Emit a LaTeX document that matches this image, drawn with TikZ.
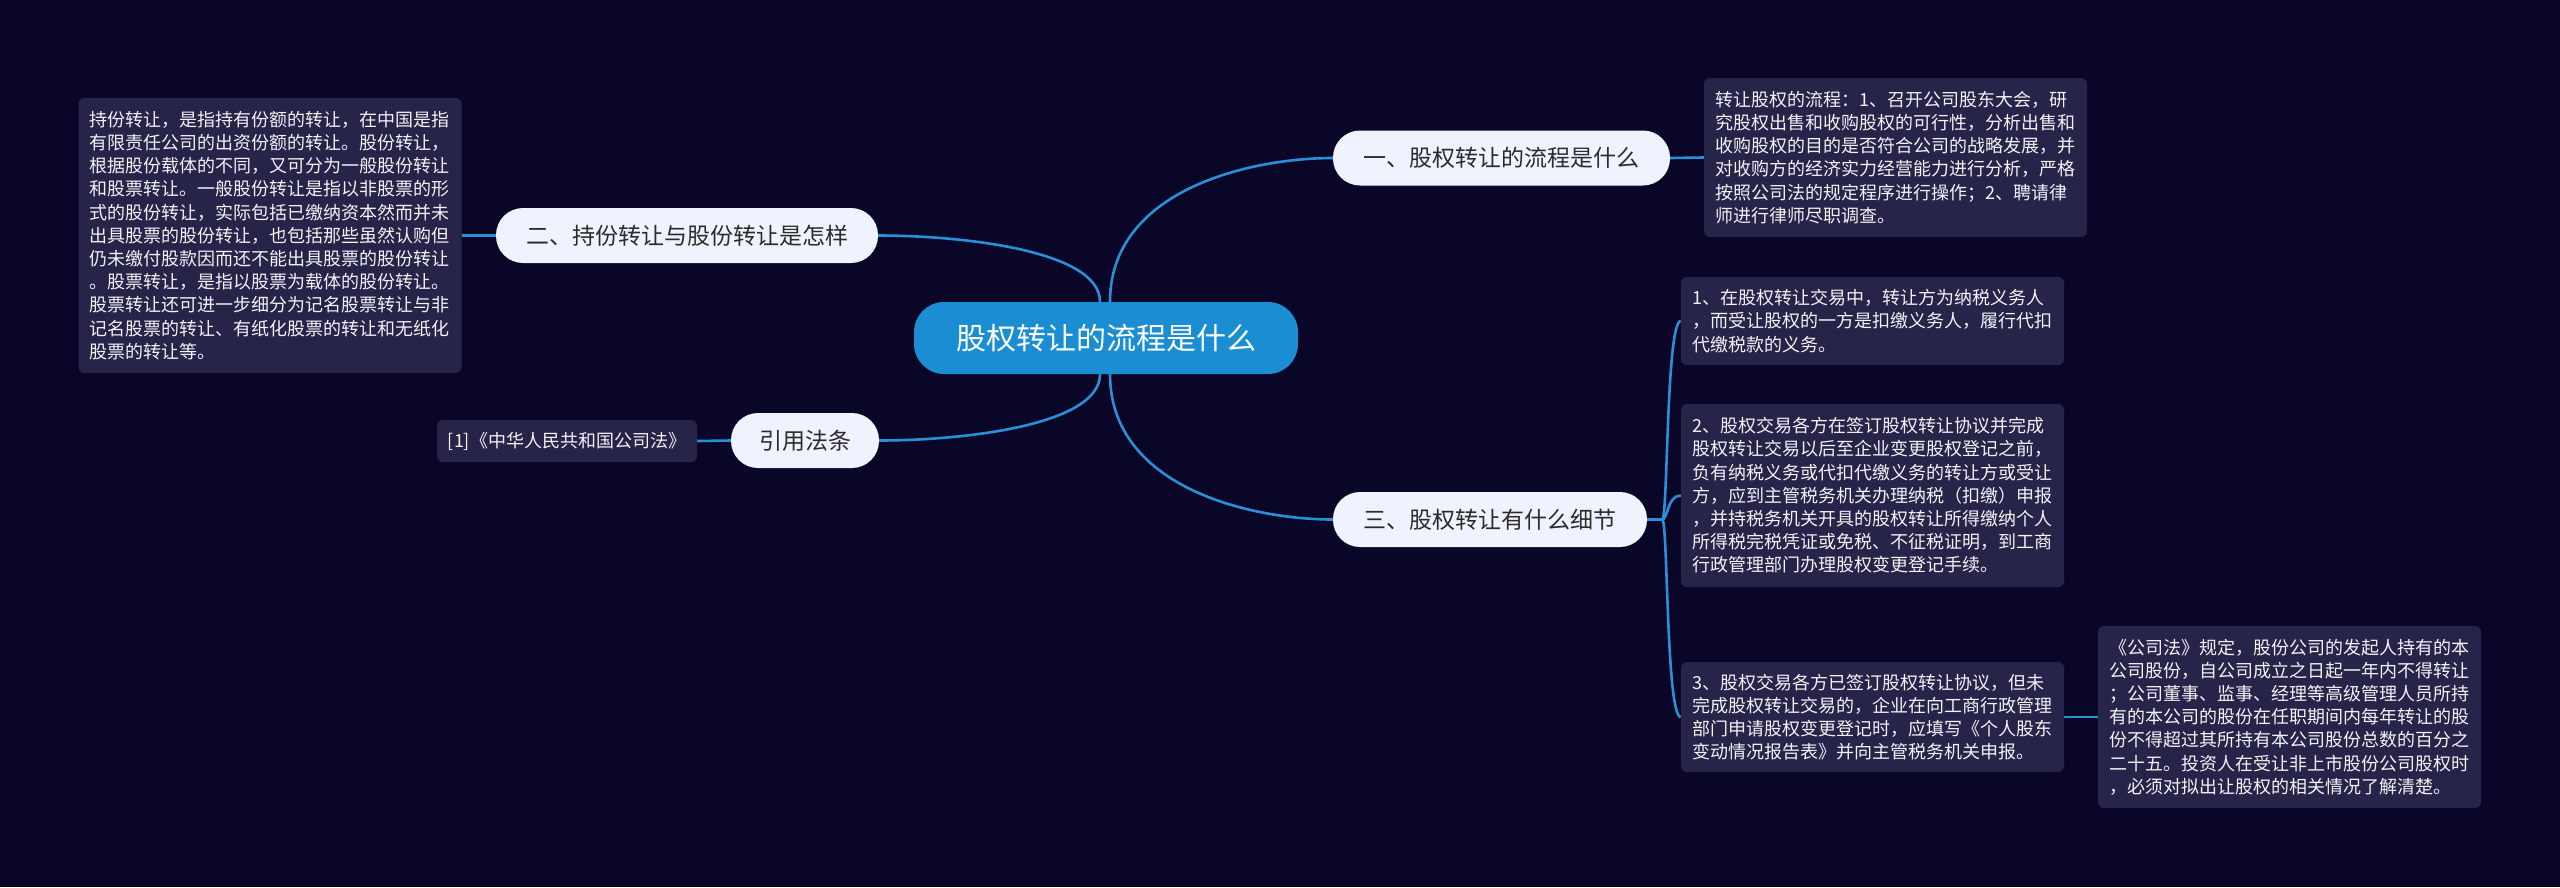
\documentclass[tikz,border=0pt]{standalone}
\usepackage{fontspec}
\newfontfamily\cjk{Noto Sans CJK SC}
\usetikzlibrary{backgrounds}
\definecolor{bgc}{HTML}{0A0628}
\definecolor{linec}{HTML}{2A8FD7}
\definecolor{centralc}{HTML}{1A8DD3}
\definecolor{topicc}{HTML}{EEF3FD}
\definecolor{topictext}{HTML}{2B2B2B}
\definecolor{boxc}{HTML}{262448}
\definecolor{boxtext}{HTML}{F2F2F7}
\begin{document}
\begin{tikzpicture}[x=1pt,y=-1pt,
  conn/.style={draw=linec, line width=2.6pt},
  central/.style={fill=centralc, rounded corners=30pt, text=white, font=\cjk\fontsize{30}{36}\selectfont, minimum height=72pt, inner sep=0pt},
  topic/.style={fill=topicc, rounded corners=27pt, text=topictext, font=\cjk\fontsize{23}{28}\selectfont, minimum height=55pt, inner sep=0pt},
  boxbase/.style={fill=boxc, rounded corners=6pt, text=boxtext, font=\cjk\fontsize{18}{23.2}\selectfont, inner ysep=0pt},
  tbox/.style={boxbase, align=left, inner xsep=11pt, text width=361pt, minimum width=383pt}
]
\begin{scope}[on background layer]
\fill[bgc] (0,0) rectangle (2560,887);
\end{scope}
\useasboundingbox (0,0) rectangle (2560,887);

\node[central, minimum width=384pt] (c) at (1106,338) {股权转让的流程是什么};
\node[topic, minimum width=337pt] (one) at (1501.5,158) {一、股权转让的流程是什么};
\node[topic, minimum width=382pt] (two) at (687,235.5) {二、持份转让与股份转让是怎样};
\node[topic, minimum width=314pt] (three) at (1490,519.5) {三、股权转让有什么细节};
\node[topic, minimum width=148pt] (law) at (805,440.5) {引用法条};

\node[tbox, minimum height=275pt] (lbox) at (270,235.5) {持份转让，是指持有份额的转让，在中国是指\\有限责任公司的出资份额的转让。股份转让，\\根据股份载体的不同，又可分为一般股份转让\\和股票转让。一般股份转让是指以非股票的形\\式的股份转让，实际包括已缴纳资本然而并未\\出具股票的股份转让，也包括那些虽然认购但\\仍未缴付股款因而还不能出具股票的股份转让\\。股票转让，是指以股票为载体的股份转让。\\股票转让还可进一步细分为记名股票转让与非\\记名股票的转让、有纸化股票的转让和无纸化\\股票的转让等。};

\node[tbox, minimum height=159pt] (rbox) at (1895.5,157.5) {转让股权的流程：1、召开公司股东大会，研\\究股权出售和收购股权的可行性，分析出售和\\收购股权的目的是否符合公司的战略发展，并\\对收购方的经济实力经营能力进行分析，严格\\按照公司法的规定程序进行操作；2、聘请律\\师进行律师尽职调查。};

\node[tbox, minimum height=88pt] (b1) at (1872.5,321) {1、在股权转让交易中，转让方为纳税义务人\\，而受让股权的一方是扣缴义务人，履行代扣\\代缴税款的义务。};

\node[tbox, minimum height=183pt] (b2) at (1872.5,495.5) {2、股权交易各方在签订股权转让协议并完成\\股权转让交易以后至企业变更股权登记之前，\\负有纳税义务或代扣代缴义务的转让方或受让\\方，应到主管税务机关办理纳税（扣缴）申报\\，并持税务机关开具的股权转让所得缴纳个人\\所得税完税凭证或免税、不征税证明，到工商\\行政管理部门办理股权变更登记手续。};

\node[tbox, minimum height=110pt] (b3) at (1872.5,717) {3、股权交易各方已签订股权转让协议，但未\\完成股权转让交易的，企业在向工商行政管理\\部门申请股权变更登记时，应填写《个人股东\\变动情况报告表》并向主管税务机关申报。};

\node[tbox, minimum height=182pt] (b4) at (2289.5,717) {《公司法》规定，股份公司的发起人持有的本\\公司股份，自公司成立之日起一年内不得转让\\；公司董事、监事、经理等高级管理人员所持\\有的本公司的股份在任职期间内每年转让的股\\份不得超过其所持有本公司股份总数的百分之\\二十五。投资人在受让非上市股份公司股权时\\，必须对拟出让股权的相关情况了解清楚。};

\node[boxbase, minimum width=260pt, minimum height=42pt, inner xsep=10pt] (lawbox) at (567,441) {[1]《中华人民共和国公司法》};

\begin{scope}[on background layer]
\draw[conn] ([xshift=-6pt]c.north) .. controls (1100,250) and (960,235.5) .. (two.east);
\draw[conn] ([xshift=4pt]c.north) .. controls (1110,190) and (1250,158) .. (one.west);
\draw[conn] ([xshift=-6pt]c.south) .. controls (1100,426) and (960,440.5) .. (law.east);
\draw[conn] ([xshift=4pt]c.south) .. controls (1110,487) and (1250,519.5) .. (three.west);
\draw[conn] (one.east) -- (rbox.west);
\draw[conn] (two.west) -- (lbox.east);
\draw[conn] (law.west) -- (lawbox.east);
\coordinate (j) at ([xshift=15pt]three.east);
\draw[conn] (three.east) -- (j);
\draw[conn] (j) .. controls (1668,519.5) and (1666,321) .. (b1.west);
\draw[conn] (j) .. controls (1668,519.5) and (1667,495.5) .. (b2.west);
\draw[conn] (j) .. controls (1668,519.5) and (1666,717) .. (b3.west);
\draw[conn] (b3.east) -- (b4.west);
\end{scope}
\end{tikzpicture}
\end{document}
